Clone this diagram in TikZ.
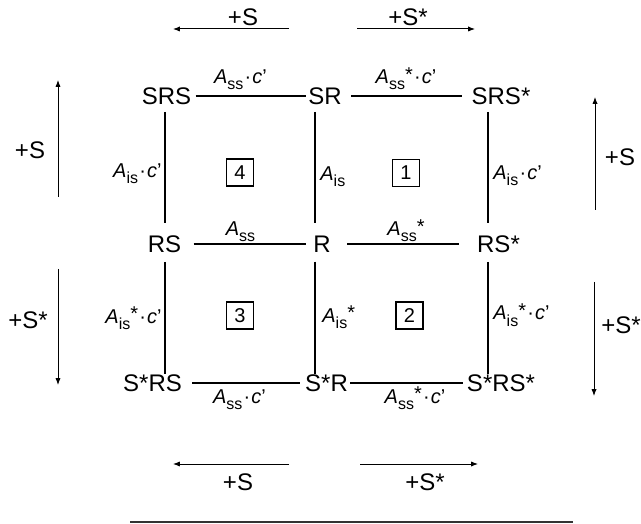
\documentclass[tikz,border=0pt]{standalone}
\usepackage{fontspec}
\setmainfont{Liberation Sans}
\usetikzlibrary{arrows.meta}
\newcommand{\Ar}[1]{\textit{A}\raisebox{-3bp}{\fontsize{8bp}{9bp}\selectfont #1}}
\newcommand{\st}{\raisebox{1.2bp}{*}}
\newcommand{\cpr}{\kern.6bp·\kern.6bp\textit{c}’}
\tikzset{
  state/.style  = {inner sep=1bp, font=\fontsize{12bp}{14bp}\selectfont},
  rate/.style   = {inner sep=0pt, font=\fontsize{10bp}{12bp}\selectfont},
  numbox/.style = {draw, line width=0.7bp, minimum size=13.5bp, inner sep=0pt,
                   font=\fontsize{10bp}{12bp}\selectfont},
  plus/.style   = {inner sep=0pt, font=\fontsize{12bp}{14bp}\selectfont},
  edge/.style   = {line width=0.6bp},
  dir/.style    = {-{Latex[length=3.4bp,width=2.6bp]}, line width=0.5bp},
}

\begin{document}
\begin{tikzpicture}[x=0.5bp,y=-0.5bp]
  \useasboundingbox (0,0) rectangle (641,524);
  % states
  \node[state] (SRS)  at (166.5,96)  {SRS};
  \node[state] (SR)   at (325,96)    {SR};
  \node[state] (SRSs) at (501,96)    {SRS*};
  \node[state] (RS)   at (164.5,244) {RS};
  \node[state] (R)    at (322,244)   {R};
  \node[state] (RSs)  at (498.5,244) {RS*};
  \node[state] (sRS)  at (152.5,383) {S*RS};
  \node[state] (sR)   at (326.5,383) {S*R};
  \node[state] (sRSs) at (501,383)   {S*RS*};
  \coordinate (cL) at (165,0);
  \coordinate (cM) at (315,0);
  \coordinate (cR) at (488,0);
  % horizontal edges
  \draw[edge, shorten <=1bp] (SRS) -- (SR);
  \draw[edge, shorten <=3.5bp, shorten >=3.5bp] (SR) -- (SRSs);
  \draw[edge, shorten <=5bp, shorten >=2.5bp] (RS) -- (R);
  \draw[edge, shorten <=7bp, shorten >=8bp] (R) -- (RSs);
  \draw[edge, shorten <=4bp, shorten >=1.5bp] (sRS) -- (sR);
  \draw[edge, shorten >=1bp] (sR) -- (sRSs);
  % vertical edges
  \draw[edge, shorten <=2.5bp, shorten >=5bp] (SRS.south -| cL) -- (RS.north -| cL);
  \draw[edge, shorten <=2.5bp, shorten >=5bp] (SR.south -| cM) -- (R.north -| cM);
  \draw[edge, shorten <=2.5bp, shorten >=5bp] (SRSs.south -| cR) -- (RSs.north -| cR);
  \draw[edge, shorten <=3.5bp, shorten >=-1bp] (RS.south -| cL) -- (sRS.north -| cL);
  \draw[edge, shorten <=3.5bp, shorten >=-1bp] (R.south -| cM) -- (sR.north -| cM);
  \draw[edge, shorten <=3.5bp, shorten >=-1bp] (RSs.south -| cR) -- (sRSs.north -| cR);
  % rate labels
  \node[rate, anchor=base] (kSRS) at (240.5,84) {\Ar{ss}\cpr};
  \node[rate, anchor=base] (kSRSs) at (406,84) {\Ar{ss}\st\cpr};
  \node[rate, anchor=base] (kRS) at (240.5,236) {\Ar{ss}};
  \node[rate, anchor=base] (kRSs) at (406,236) {\Ar{ss}\st};
  \node[rate, anchor=base] (ksRS) at (239.5,403) {\Ar{ss}\cpr};
  \node[rate, anchor=base] (ksRSs) at (415,403) {\Ar{ss}\st\cpr};
  \node[rate, anchor=base east] (kL1) at (162,178) {\Ar{is}\cpr};
  \node[rate, anchor=base west] (kM1) at (320,181) {\Ar{is}};
  \node[rate, anchor=base west] (kR1) at (493,180) {\Ar{is}\cpr};
  \node[rate, anchor=base east] (kL2) at (162,323) {\Ar{is}\st\cpr};
  \node[rate, anchor=base west] (kM2) at (322,322) {\Ar{is}\st};
  \node[rate, anchor=base west] (kR2) at (493,320) {\Ar{is}\st\cpr};
  % numbered cycles
  \node[numbox] (b4) at (240,172.5) {4};
  \node[numbox] (b1) at (406,173)   {1};
  \node[numbox] (b3) at (240,315.5) {3};
  \node[numbox] (b2) at (409.5,315.5) {2};
  % directions
  \node[plus] (pT1) at (243,17)  {+S};
  \node[plus] (pT2) at (408,17)  {+S*};
  \node[plus] (pL1) at (30,150)  {+S};
  \node[plus] (pL2) at (28,320)  {+S*};
  \node[plus] (pR1) at (620,157) {+S};
  \node[plus] (pR2) at (621,325) {+S*};
  \node[plus] (pB1) at (238,482) {+S};
  \node[plus] (pB2) at (425,482) {+S*};
  \coordinate (a1s) at (289,29);  \coordinate (a1e) at (173,29);
  \coordinate (a2s) at (357,29);  \coordinate (a2e) at (475,29);
  \coordinate (a3s) at (58,197);  \coordinate (a3e) at (58,80);
  \coordinate (a4s) at (58,269);  \coordinate (a4e) at (58,385);
  \coordinate (a5s) at (595,210); \coordinate (a5e) at (595,97);
  \coordinate (a6s) at (594,282); \coordinate (a6e) at (594,396);
  \coordinate (a7s) at (289,464); \coordinate (a7e) at (173,464);
  \coordinate (a8s) at (360,464); \coordinate (a8e) at (478,464);
  \draw[dir] (a1s) -- (a1e); \draw[dir] (a2s) -- (a2e);
  \draw[dir] (a3s) -- (a3e); \draw[dir] (a4s) -- (a4e);
  \draw[dir] (a5s) -- (a5e); \draw[dir] (a6s) -- (a6e);
  \draw[dir] (a7s) -- (a7e); \draw[dir] (a8s) -- (a8e);
  % rule
  \coordinate (r1) at (130,522); \coordinate (r2) at (573,522);
  \draw[line width=1.1bp, black!80] (r1) -- (r2);
\end{tikzpicture}
\end{document}
